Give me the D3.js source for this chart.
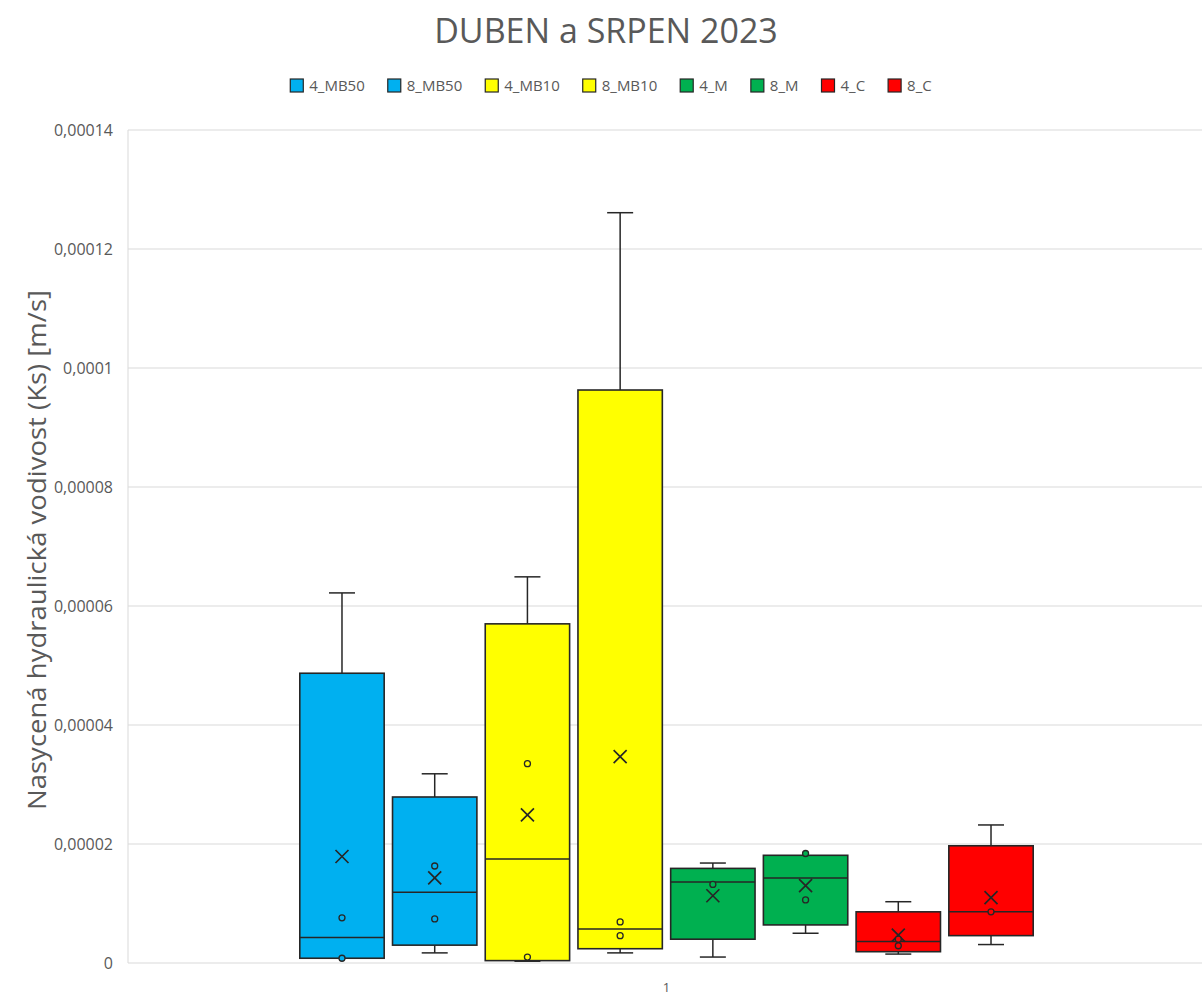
<!DOCTYPE html>
<html>
<head>
<meta charset="utf-8">
<script src="https://cdn.jsdelivr.net/npm/d3@7"></script>
<style>
  body { margin: 0; background: #fff; }
  text { font-family: 'Open Sans', sans-serif; }
</style>
</head>
<body>
<div id="chart"></div>
<script>
// data (values in m/s)
var categories = ['1']
var seriesNames = ['4_MB50', '8_MB50', '4_MB10', '8_MB10', '4_M', '8_M', '4_C', '8_C']
var seriesColors = ['#00B0F0', '#00B0F0', '#FFFF00', '#FFFF00', '#00B050', '#00B050', '#FF0000', '#FF0000']
var lows    = [0.8e-6, 1.7e-6, 0.3e-6, 1.7e-6, 1.0e-6, 5.0e-6, 1.5e-6, 3.1e-6]
var q1s     = [0.8e-6, 3.0e-6, 0.4e-6, 2.4e-6, 4.0e-6, 6.4e-6, 1.9e-6, 4.6e-6]
var medians = [4.3e-6, 11.9e-6, 17.5e-6, 5.7e-6, 13.6e-6, 14.3e-6, 3.6e-6, 8.6e-6]
var q3s     = [48.7e-6, 27.9e-6, 57.0e-6, 96.3e-6, 15.9e-6, 18.1e-6, 8.6e-6, 19.7e-6]
var highs   = [62.2e-6, 31.8e-6, 64.9e-6, 126.1e-6, 16.8e-6, 18.1e-6, 10.3e-6, 23.2e-6]
var means   = [17.9e-6, 14.3e-6, 24.9e-6, 34.7e-6, 11.3e-6, 13.0e-6, 4.7e-6, 11.0e-6]
var innerPoints = [[0.8e-6, 7.6e-6], [16.3e-6, 7.4e-6], [33.5e-6, 1.0e-6], [6.9e-6, 4.6e-6],
                   [13.2e-6], [18.4e-6, 10.6e-6], [4.0e-6, 2.9e-6], [8.6e-6]]
var yTicks = [0, 0.00002, 0.00004, 0.00006, 0.00008, 0.0001, 0.00012, 0.00014]

var W = 1202, H = 999
//plot area runs a little past the right edge of the picture
var margin = {top: 130, right: -3, bottom: 36, left: 128}
var width  = W - margin.left - margin.right,
    height = H - margin.top - margin.bottom

var textColor = '#595959'
var cz = d3.formatLocale({decimal: ',', thousands: ' ', grouping: [3], currency: ['', ' Kč']})
var fmt = cz.format('~f')

var svg = d3.select('#chart').append('svg')
			.attr('width', W)
			.attr('height', H)

var g = svg.append('g')
		   .attr('transform', 'translate(' + margin.left + ',' + margin.top + ')')

// scales
var y = d3.scaleLinear().domain([0, 0.00014]).range([height, 0])
var x0 = d3.scaleBand().domain(categories).range([0, width]).paddingInner(0).paddingOuter(0.226)
var x1 = d3.scaleBand().domain(seriesNames).range([0, x0.bandwidth()]).paddingInner(0.09).paddingOuter(0.045)

// gridlines
g.append('g').selectAll('line').data(yTicks).enter()
 .append('line')
 .attr('x1', 0).attr('x2', width)
 .attr('y1', function(d){ return y(d) }).attr('y2', function(d){ return y(d) })
 .style('stroke', '#d9d9d9').style('stroke-width', 1)

g.append('line')
 .attr('x1', 0).attr('x2', 0).attr('y1', 0).attr('y2', height)
 .style('stroke', '#d9d9d9')

// y axis
var yAxis = g.append('g')
			 .call(d3.axisLeft(y).tickValues(yTicks).tickFormat(fmt).tickSize(0).tickPadding(15))
yAxis.select('.domain').remove()
yAxis.selectAll('text')
	 .style('font-family', "'Open Sans', sans-serif")
	 .style('font-size', '16px')
	 .style('fill', textColor)

// x axis
var xAxis = g.append('g')
			 .attr('transform', 'translate(0,' + height + ')')
			 .call(d3.axisBottom(x0).tickSize(0).tickPadding(20))
xAxis.select('.domain').remove()
xAxis.selectAll('text')
	 .style('font-family', "'Open Sans', sans-serif")
	 .style('font-size', '13px')
	 .style('fill', textColor)

// boxes
var boxes = g.append('g').selectAll('g.box')
			 .data(seriesNames).enter()
			 .append('g')
			 .attr('class', 'box')
			 .attr('transform', function(d){ return 'translate(' + (x0('1') + x1(d)) + ',0)' })

var bw = x1.bandwidth()
var stroke = '#262626'
var capW = 26

boxes.each(function(d, i){
	var b = d3.select(this)
	var cx = bw / 2
	// whiskers
	if (highs[i] > q3s[i]) {
		b.append('line').attr('x1', cx).attr('x2', cx).attr('y1', y(q3s[i])).attr('y2', y(highs[i]))
		 .style('stroke', stroke).style('stroke-width', 1.5)
		b.append('line').attr('x1', cx - capW/2).attr('x2', cx + capW/2).attr('y1', y(highs[i])).attr('y2', y(highs[i]))
		 .style('stroke', stroke).style('stroke-width', 1.5)
	}
	if (lows[i] < q1s[i]) {
		b.append('line').attr('x1', cx).attr('x2', cx).attr('y1', y(q1s[i])).attr('y2', y(lows[i]))
		 .style('stroke', stroke).style('stroke-width', 1.5)
		b.append('line').attr('x1', cx - capW/2).attr('x2', cx + capW/2).attr('y1', y(lows[i])).attr('y2', y(lows[i]))
		 .style('stroke', stroke).style('stroke-width', 1.5)
	}
	// box
	b.append('rect')
	 .attr('x', 0).attr('width', bw)
	 .attr('y', y(q3s[i])).attr('height', y(q1s[i]) - y(q3s[i]))
	 .style('fill', seriesColors[i]).style('stroke', stroke).style('stroke-width', 1.6)
	// median
	b.append('line').attr('x1', 0).attr('x2', bw).attr('y1', y(medians[i])).attr('y2', y(medians[i]))
	 .style('stroke', stroke).style('stroke-width', 1.5)
	// mean (x marker)
	var my = y(means[i]), s = 6.5
	b.append('path')
	 .attr('d', 'M' + (cx - s) + ',' + (my - s) + 'L' + (cx + s) + ',' + (my + s) +
				'M' + (cx - s) + ',' + (my + s) + 'L' + (cx + s) + ',' + (my - s))
	 .style('stroke', stroke).style('stroke-width', 1.7).style('fill', 'none')
	// inner points
	b.selectAll('circle').data(innerPoints[i]).enter()
	 .append('circle')
	 .attr('cx', cx).attr('cy', function(v){ return y(v) }).attr('r', 3)
	 .style('fill', seriesColors[i]).style('stroke', stroke).style('stroke-width', 1.3)
})

// title
svg.append('text')
   .attr('x', 606).attr('y', 43)
   .attr('text-anchor', 'middle')
   .style('font-size', '34px')
   .style('fill', textColor)
   .text('DUBEN a SRPEN 2023')

// y axis title
svg.append('text')
   .attr('transform', 'translate(46,550) rotate(-90)')
   .attr('text-anchor', 'middle')
   .attr('textLength', 520)
   .attr('lengthAdjust', 'spacingAndGlyphs')
   .style('font-size', '26px')
   .style('fill', textColor)
   .text('Nasycená hydraulická vodivost (Ks) [m/s]')

// legend
var legend = svg.append('g')
var items = legend.selectAll('g').data(seriesNames).enter().append('g')
items.append('rect')
	 .attr('width', 13).attr('height', 13)
	 .attr('y', -12)
	 .style('fill', function(d, i){ return seriesColors[i] })
	 .style('stroke', stroke).style('stroke-width', 1.2)
items.append('text')
	 .attr('x', 19).attr('y', 0)
	 .style('font-size', '15px')
	 .style('fill', textColor)
	 .text(function(d){ return d })

var lx = 0, gap = 23
items.each(function(){
	var it = d3.select(this)
	it.attr('transform', 'translate(' + lx + ',0)')
	lx += 19 + it.select('text').node().getComputedTextLength() + gap
})
lx -= gap
legend.attr('transform', 'translate(' + (611 - lx / 2) + ',91)')
</script>
</body>
</html>
